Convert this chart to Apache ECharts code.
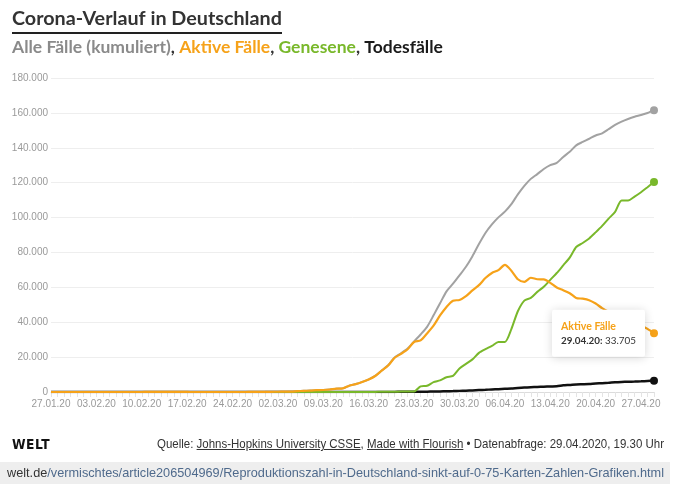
<!DOCTYPE html>
<html><head><meta charset="utf-8">
<script src="https://cdn.jsdelivr.net/npm/echarts@6/dist/echarts.min.js"></script>
<style>
html,body{margin:0;padding:0;background:#fff;}
#chart{position:absolute;left:0;top:0;width:679px;height:484px;}
.fit{position:absolute;white-space:nowrap;transform-origin:0 50%;line-height:16px;}
#welt{left:12px;top:436px;font:bold 14px 'DejaVu Sans',Arial,sans-serif;color:#111;letter-spacing:0.5px;}
#src{left:157px;top:436px;font:13px 'Liberation Sans Narrow','Liberation Sans',Arial,sans-serif;color:#333;}
#src u{text-decoration:underline;}
#bar{position:absolute;left:0;top:462px;width:670px;height:22px;background:#eeeeee;}
#url{left:7px;top:465px;font:13px 'Liberation Sans Narrow','Liberation Sans',Arial,sans-serif;color:#4f6a8c;}
#url b{font-weight:normal;color:#333;}
</style>
</head><body>
<div id="chart"></div>
<div id="welt" class="fit">WELT</div>
<div id="src" class="fit">Quelle: <u>Johns-Hopkins University CSSE</u>, <u>Made with Flourish</u> • Datenabfrage: 29.04.2020, 19.30 Uhr</div>
<div id="bar"></div>
<div id="url" class="fit"><b>welt.de</b>/vermischtes/article206504969/Reproduktionszahl-in-Deutschland-sinkt-auf-0-75-Karten-Zahlen-Grafiken.html</div>
<script>
const dates = [
'27.01.20','28.01.20','29.01.20','30.01.20','31.01.20',
'01.02.20','02.02.20','03.02.20','04.02.20','05.02.20','06.02.20','07.02.20','08.02.20','09.02.20','10.02.20',
'11.02.20','12.02.20','13.02.20','14.02.20','15.02.20','16.02.20','17.02.20','18.02.20','19.02.20','20.02.20',
'21.02.20','22.02.20','23.02.20','24.02.20','25.02.20','26.02.20','27.02.20','28.02.20','29.02.20',
'01.03.20','02.03.20','03.03.20','04.03.20','05.03.20','06.03.20','07.03.20','08.03.20','09.03.20','10.03.20',
'11.03.20','12.03.20','13.03.20','14.03.20','15.03.20','16.03.20','17.03.20','18.03.20','19.03.20','20.03.20',
'21.03.20','22.03.20','23.03.20','24.03.20','25.03.20','26.03.20','27.03.20','28.03.20','29.03.20','30.03.20','31.03.20',
'01.04.20','02.04.20','03.04.20','04.04.20','05.04.20','06.04.20','07.04.20','08.04.20','09.04.20','10.04.20',
'11.04.20','12.04.20','13.04.20','14.04.20','15.04.20','16.04.20','17.04.20','18.04.20','19.04.20','20.04.20',
'21.04.20','22.04.20','23.04.20','24.04.20','25.04.20','26.04.20','27.04.20','28.04.20','29.04.20'
];
const allCases = [
1,4,4,4,5,
8,10,12,12,12,12,13,13,14,14,16,16,16,16,16,16,16,16,16,16,16,16,16,16,17,27,46,48,79,
130,159,196,262,482,670,799,1040,1176,1457,1908,2078,3675,4585,5795,7272,9257,12327,15320,19848,22213,24873,29056,32986,37323,43938,50871,57695,62095,66885,71808,
77872,84794,91159,96092,100123,103374,107663,113296,118181,122171,124908,127854,130072,131359,134753,137698,141397,143342,145184,147065,148291,150648,153129,154999,156513,157770,158758,159912,161539
];
const activeCases = [
1,4,4,4,5,
8,10,12,12,12,12,13,13,14,14,16,15,15,15,15,15,15,4,4,4,2,2,2,2,3,11,30,32,63,
114,143,180,246,466,654,781,1022,1156,1437,1880,2050,3622,4530,5738,7188,9166,12194,15163,19601,21896,24513,28667,29586,33570,37998,43871,48781,52351,52740,54933,
58252,61247,65309,68248,69839,72864,69566,64647,63167,65491,64637,64532,62578,59865,58349,56646,53931,53483,52598,50703,48058,45969,44254,39439,40836,39794,38132,36198,33705
];
const recovered = [
0,0,0,0,0,
0,0,0,0,0,0,0,0,0,0,0,1,1,1,1,1,1,12,12,12,14,14,14,14,14,16,16,16,16,
16,16,16,16,16,16,18,18,18,18,25,25,46,46,46,67,67,105,113,180,233,266,266,3243,3547,5673,6658,8481,9211,13500,16100,
18700,22440,24575,26400,28700,28700,36081,46300,52407,53913,57400,60300,64300,68200,72600,77000,83114,85400,88000,91500,95200,99400,103300,109800,109800,112000,114500,117400,120400
];
const deaths = [
0,0,0,0,0,
0,0,0,0,0,0,0,0,0,0,0,0,0,0,0,0,0,0,0,0,0,0,0,0,0,0,0,0,0,
0,0,0,0,0,0,0,0,2,2,3,3,7,9,11,17,24,28,44,67,84,94,123,157,206,267,342,433,533,645,775,
920,1107,1275,1444,1584,1810,2016,2349,2607,2767,2871,3022,3194,3294,3804,4052,4352,4459,4586,4862,5033,5279,5575,5760,5877,5976,6126,6314,6467
];
const seriesNames = ['Alle Fälle (kumuliert)','Aktive Fälle','Genesene','Todesfälle'];

const C_ALL='#a2a2a2', C_ACT='#f6a219', C_REC='#79b82b', C_DEAD='#111111';
const fmt = v => String(v).replace(/\B(?=(\d{3})+(?!\d))/g,'.');

const measureCtx=document.createElement('canvas').getContext('2d');
function textW(text, font){ measureCtx.font=font; return measureCtx.measureText(text).width; }
function fitSize(text, weight, family, target){
  return 100*target/textW(text, weight+' 100px '+family);
}
const TF="Lato, 'Noto Sans', sans-serif";
const titleText='Corona-Verlauf in Deutschland';
const subText='Alle Fälle (kumuliert), Aktive Fälle, Genesene, Todesfälle';
const ts=fitSize(titleText,'bold',TF,270);
const ss=fitSize(subText,'bold',TF,431);

const last=dates.length-1;
function mk(name, values, color, width){
  return {
    type:'line', name, data:values, smooth:0.25, symbol:'circle',
    symbolSize:(v,p)=>p.dataIndex===last?8:0,
    showSymbol:true, silent:true, animation:false,
    lineStyle:{color,width}, itemStyle:{color},
    label:{show:false}, labelLayout:{hideOverlap:false}
  };
}

const tipDate=dates[last]+':';
const tipVal=' '+fmt(activeCases[last]);
// font sizes fitted to the reference tooltip's text widths
const fs2 = 100*75/(textW(tipDate,'bold 100px '+TF)+textW(tipVal,'normal 100px '+TF));
const fs1 = fitSize(seriesNames[1],'bold',TF,55);
const line2W=textW(tipDate,'bold '+fs2+'px '+TF)+textW(tipVal,'normal '+fs2+'px '+TF);
const boxW=Math.ceil(line2W);

const tipLabel = {
  show:true, position:'left', distance:5, offset:[0,-4],
  backgroundColor:'#fff', padding:[10,9,9,9], borderRadius:2,
  shadowBlur:10, shadowColor:'rgba(0,0,0,0.16)', shadowOffsetY:1,
  formatter:()=>'{t|'+seriesNames[1]+'}\n{b|'+tipDate+'}{v|'+tipVal+'}',
  rich:{
    t:{color:C_ACT,fontWeight:'bold',fontSize:fs1,fontFamily:TF,lineHeight:14,width:boxW,align:'left'},
    b:{color:'#333',fontWeight:'bold',fontSize:fs2,fontFamily:TF,lineHeight:14},
    v:{color:'#333',fontSize:fs2,fontFamily:TF,lineHeight:14}
  }
};

const activeData = activeCases.map((v,i)=> i===last ? {value:v, label:tipLabel} : v);

const chart=echarts.init(document.getElementById('chart'),null,{renderer:'canvas'});
chart.setOption({
  animation:false,
  backgroundColor:'#fff',
  grid:{left:51,right:25,top:78,bottom:92},
  xAxis:{
    type:'category', data:dates, boundaryGap:false,
    axisLine:{lineStyle:{color:'#dcdcdc'}},
    axisTick:{show:true,interval:0,length:5,lineStyle:{color:'#e4e4e4'}},
    axisLabel:{interval:6,color:'#9a9a9a',fontSize:10,fontFamily:"'Liberation Sans',Arial,sans-serif",margin:7},
    splitLine:{show:false}
  },
  yAxis:{
    type:'value', min:0, max:180000, interval:20000,
    axisLine:{show:false}, axisTick:{show:false},
    axisLabel:{color:'#9a9a9a',fontSize:10,fontFamily:"'Liberation Sans',Arial,sans-serif",margin:3,formatter:fmt},
    splitLine:{lineStyle:{color:'#eeeeee',width:1}}
  },
  series:[
    mk(seriesNames[3], deaths, C_DEAD, 2.5),
    mk(seriesNames[0], allCases, C_ALL, 2),
    mk(seriesNames[2], recovered, C_REC, 2),
    mk(seriesNames[1], activeData, C_ACT, 2.2)
  ],
  graphic:[
    {type:'text', left:12, top:9, style:{text:titleText, fontSize:ts, fontWeight:'bold', fontFamily:TF, fill:'#333'}},
    {type:'rect', shape:{x:12,y:32,width:270,height:2}, style:{fill:'#222'}},
    {type:'text', left:12, top:38, style:{
      text:'{a|Alle Fälle (kumuliert)}{s|, }{b|Aktive Fälle}{s|, }{c|Genesene}{s|, }{d|Todesfälle}',
      rich:{
        a:{fill:'#8a8a8a',fontSize:ss,fontWeight:'bold',fontFamily:TF},
        b:{fill:C_ACT,fontSize:ss,fontWeight:'bold',fontFamily:TF},
        c:{fill:C_REC,fontSize:ss,fontWeight:'bold',fontFamily:TF},
        d:{fill:'#1a1a1a',fontSize:ss,fontWeight:'bold',fontFamily:TF},
        s:{fill:'#333',fontSize:ss,fontWeight:'bold',fontFamily:TF}
      }
    }}
  ]
});

function fit(id,w){const el=document.getElementById(id);const a=el.getBoundingClientRect().width;el.style.transform='scaleX('+(w/a)+')';}
fit('welt',38); fit('src',507); fit('url',657);
</script>
</body></html>
